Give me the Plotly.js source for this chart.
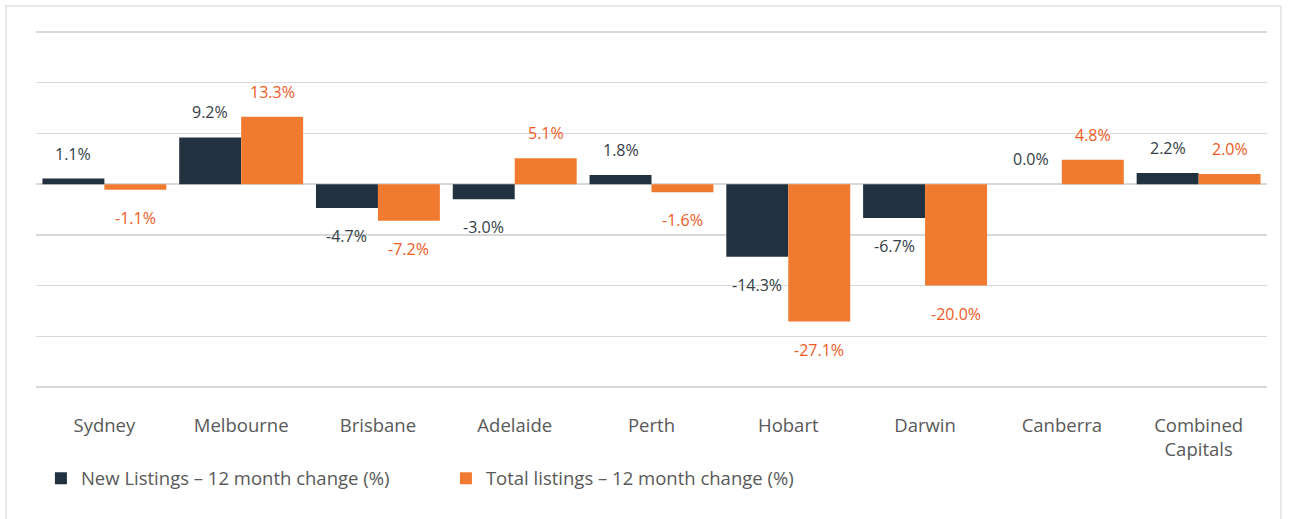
<!DOCTYPE html>
<html>
<head>
<meta charset="utf-8">
<script src="https://cdn.plot.ly/plotly-3.0.1.min.js"></script>
<style>
  html, body { margin: 0; padding: 0; background: #ffffff; }
  #frame { position: absolute; left: 5px; top: 5px; width: 1277px; height: 520px; border: 2px solid #e8e8e8; box-sizing: border-box; }
  #chart { position: absolute; left: 0; top: 0; width: 1289px; height: 519px; }
</style>
</head>
<body>
<div id="frame"></div>
<div id="chart"></div>
<script>
const categories = ["Sydney", "Melbourne", "Brisbane", "Adelaide", "Perth", "Hobart", "Darwin", "Canberra", "Combined<br>Capitals"];
const newListings = [1.1, 9.2, -4.7, -3.0, 1.8, -14.3, -6.7, 0.0, 2.2];
const totalListings = [-1.1, 13.3, -7.2, 5.1, -1.6, -27.1, -20.0, 4.8, 2.0];
const seriesNames = ["New Listings \u2013 12 month change (%)", "Total listings \u2013 12 month change (%)"];
const barColors = ["#22313f", "#f07b30"];
const labelColors = ["#333d47", "#f05a1e"];

const fontFamily = "Open Sans, Lato, sans-serif";

const traces = [newListings, totalListings].map((vals, i) => ({
  type: "bar",
  name: seriesNames[i],
  x: categories,
  y: vals,
  marker: { color: barColors[i] },
  hoverinfo: "skip"
}));

const annotations = [];
[newListings, totalListings].forEach((vals, i) => {
  vals.forEach((v, j) => {
    annotations.push({
      x: categories[j],
      y: v,
      xref: "x",
      yref: "y",
      text: v.toFixed(1) + "%",
      showarrow: false,
      xshift: i === 0 ? -31 : 31,
      yshift: v >= 0 ? 25 : -28,
      yanchor: "middle",
      xanchor: "center",
      font: { family: fontFamily, size: 16, color: labelColors[i] }
    });
  });
});

const layout = {
  width: 1289,
  height: 519,
  margin: { l: 36, r: 22, t: 31, b: 131 },
  paper_bgcolor: "rgba(0,0,0,0)",
  plot_bgcolor: "rgba(0,0,0,0)",
  barmode: "group",
  bargap: 0.094,
  bargroupgap: 0,
  font: { family: fontFamily, color: "#595959" },
  xaxis: {
    type: "category",
    tickfont: { family: fontFamily, size: 18.5, color: "#595959" },
    ticklabelstandoff: 24,
    showgrid: false,
    showline: false,
    zeroline: false
  },
  yaxis: {
    range: [-40.2, 30.2],
    tickvals: [-40, -30, -20, -10, 0, 10, 20, 30],
    showticklabels: false,
    showgrid: true,
    gridcolor: "#d9d9d9",
    gridwidth: 1.5,
    zeroline: true,
    zerolinecolor: "#d9d9d9",
    zerolinewidth: 1.5,
    fixedrange: true
  },
  showlegend: true,
  legend: {
    orientation: "h",
    x: 0.004,
    xanchor: "left",
    y: -0.254,
    yanchor: "middle",
    font: { family: fontFamily, size: 18.5, color: "#595959" },
    itemwidth: 30,
    entrywidth: 360,
    bgcolor: "rgba(0,0,0,0)"
  },
  annotations: annotations
};

Plotly.newPlot("chart", traces, layout, { displayModeBar: false, staticPlot: true });
</script>
</body>
</html>
